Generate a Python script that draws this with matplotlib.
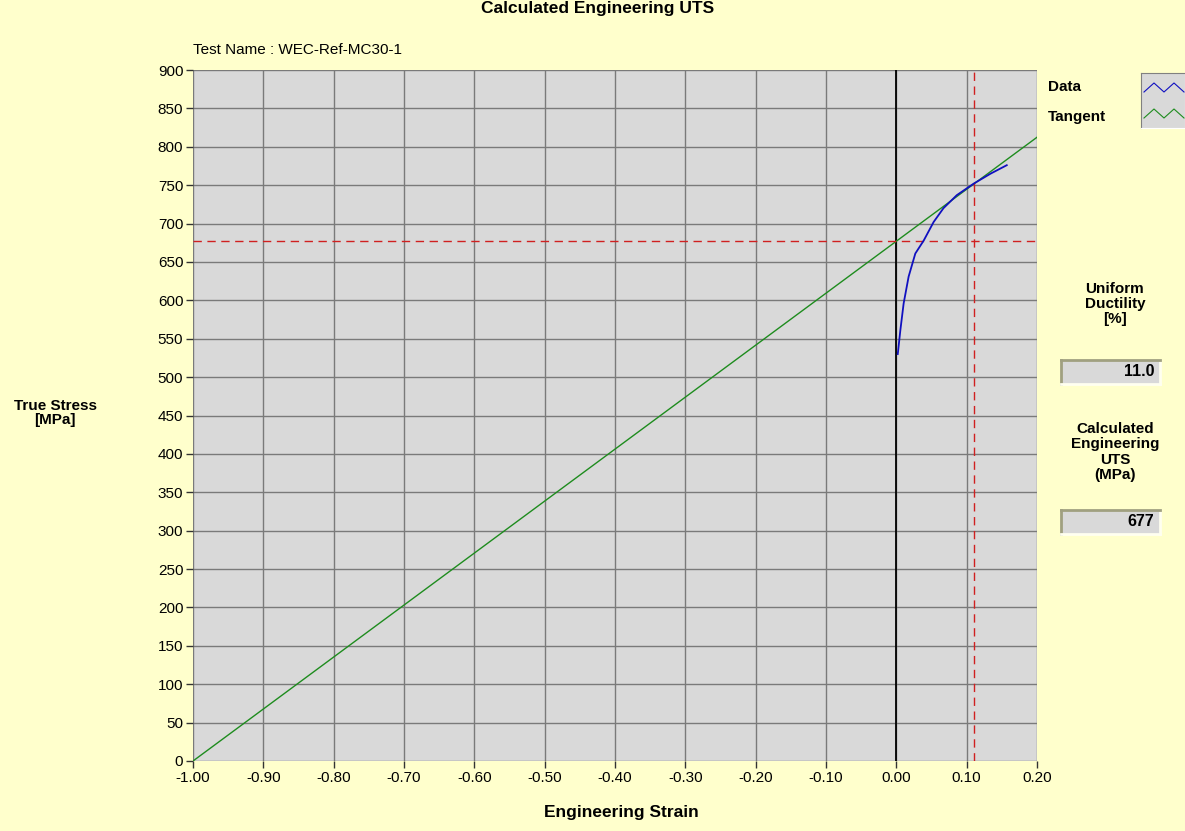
import matplotlib
matplotlib.use("Agg")
import matplotlib.pyplot as plt
import numpy as np

# ---- data ----
strain_data = [0.002, 0.0024, 0.0057, 0.0104, 0.0175, 0.027, 0.039, 0.053, 0.067, 0.086, 0.110, 0.134, 0.157]
stress_data = [530, 533, 561, 596, 631, 661, 678, 702, 720, 737, 752, 765, 776]
tangent_strain = [-1.0, 0.2]
tangent_stress = [0.0, 812.4]
uniform_ductility = 11.0   # %
calc_uts = 677             # MPa
xticks = [-1.0, -0.9, -0.8, -0.7, -0.6, -0.5, -0.4, -0.3, -0.2, -0.1, 0.0, 0.1, 0.2]
yticks = list(range(0, 901, 50))

BG = "#FFFFCC"
PLOTBG = "#D9D9D9"
FONT = "Liberation Sans"

fig = plt.figure(figsize=(11.85, 8.31), dpi=100, facecolor=BG)
W, H = 1185, 831
ax = fig.add_axes([193 / W, 1 - 761 / H, (1037 - 193) / W, (761 - 70) / H])
ax.set_facecolor(PLOTBG)
ax.set_xlim(-1.0, 0.2)
ax.set_ylim(0, 900)
ax.set_xticks(xticks)
ax.set_xticklabels([f"{v:.2f}" for v in xticks], fontfamily=FONT, fontsize=11)
ax.set_yticks(yticks)
ax.set_yticklabels([str(v) for v in yticks], fontfamily=FONT, fontsize=11)
ax.tick_params(direction="out", length=5, width=1, color="#333333", pad=2)
ax.grid(True, color="#7A7A7A", linewidth=1)
ax.set_axisbelow(True)
for s in ax.spines.values():
    s.set_visible(False)

ax.plot(tangent_strain, tangent_stress, color="#1E8C1E", linewidth=1, zorder=3)
ax.plot(strain_data, stress_data, color="#1010C0", linewidth=1.3, zorder=4)
ax.axvline(0.0, color="black", linewidth=1.3, zorder=2)
ax.axhline(calc_uts, color="#D02020", linestyle=(0, (6, 4)), linewidth=1, zorder=3)
ax.axvline(uniform_ductility / 100, color="#D02020", linestyle=(0, (6, 4)), linewidth=1, zorder=3)

# titles/labels
fig.text(598 / W, 1 - 9 / H, "Calculated Engineering UTS", ha="center", va="center",
         fontfamily=FONT, fontweight="bold", fontsize=12.5)
fig.text(193 / W, 1 - 50 / H, "Test Name : WEC-Ref-MC30-1", ha="left", va="center",
         fontfamily=FONT, fontsize=11)
fig.text(621 / W, 1 - 813 / H, "Engineering Strain", ha="center", va="center",
         fontfamily=FONT, fontweight="bold", fontsize=12.5)
fig.text(55 / W, 1 - 413 / H, "True Stress\n[MPa]", ha="center", va="center",
         fontfamily=FONT, fontweight="bold", fontsize=11, linespacing=1.0)

# legend
fig.text(1048 / W, 1 - 87 / H, "Data", ha="left", va="center",
         fontfamily=FONT, fontweight="bold", fontsize=11)
fig.text(1048 / W, 1 - 117 / H, "Tangent", ha="left", va="center",
         fontfamily=FONT, fontweight="bold", fontsize=11)
lax = fig.add_axes([1141 / W, 1 - 128 / H, (1185 - 1141) / W, (128 - 73) / H])
lax.set_facecolor(PLOTBG)
lax.set_xlim(0, 4.4)
lax.set_ylim(0, 5.5)
zx = [0.3, 1.3, 2.3, 3.3, 4.3]
lax.plot(zx, [3.6, 4.5, 3.6, 4.5, 3.6], color="#1010C0", linewidth=0.8)
lax.plot(zx, [1.0, 1.9, 1.0, 1.9, 1.0], color="#1E8C1E", linewidth=0.8)
lax.set_xticks([]); lax.set_yticks([])
for k, s in lax.spines.items():
    s.set_color("#808080" if k in ("left", "top") else "white")

# right panel
fig.text(1115 / W, 1 - 304 / H, "Uniform\nDuctility\n[%]", ha="center", va="center",
         fontfamily=FONT, fontweight="bold", fontsize=11, linespacing=1.1)
fig.text(1115 / W, 1 - 452 / H, "Calculated\nEngineering\nUTS\n(MPa)", ha="center", va="center",
         fontfamily=FONT, fontweight="bold", fontsize=11, linespacing=1.1)

def valbox(y0, y1, txt):
    bx = fig.add_axes([1061 / W, 1 - y1 / H, (1160 - 1061) / W, (y1 - y0) / H])
    bx.set_facecolor(PLOTBG)
    bx.set_xticks([]); bx.set_yticks([])
    for k, s in bx.spines.items():
        s.set_color("#A0A080" if k in ("left", "top") else "#FFFFF0")
        s.set_linewidth(2)
    bx.text(0.94, 0.5, txt, ha="right", va="center", transform=bx.transAxes,
            fontfamily=FONT, fontweight="bold", fontsize=11.5)

valbox(360, 384, f"{uniform_ductility:.1f}")
valbox(510, 534, f"{calc_uts}")

fig.savefig("out.png", dpi=100, facecolor=BG)
